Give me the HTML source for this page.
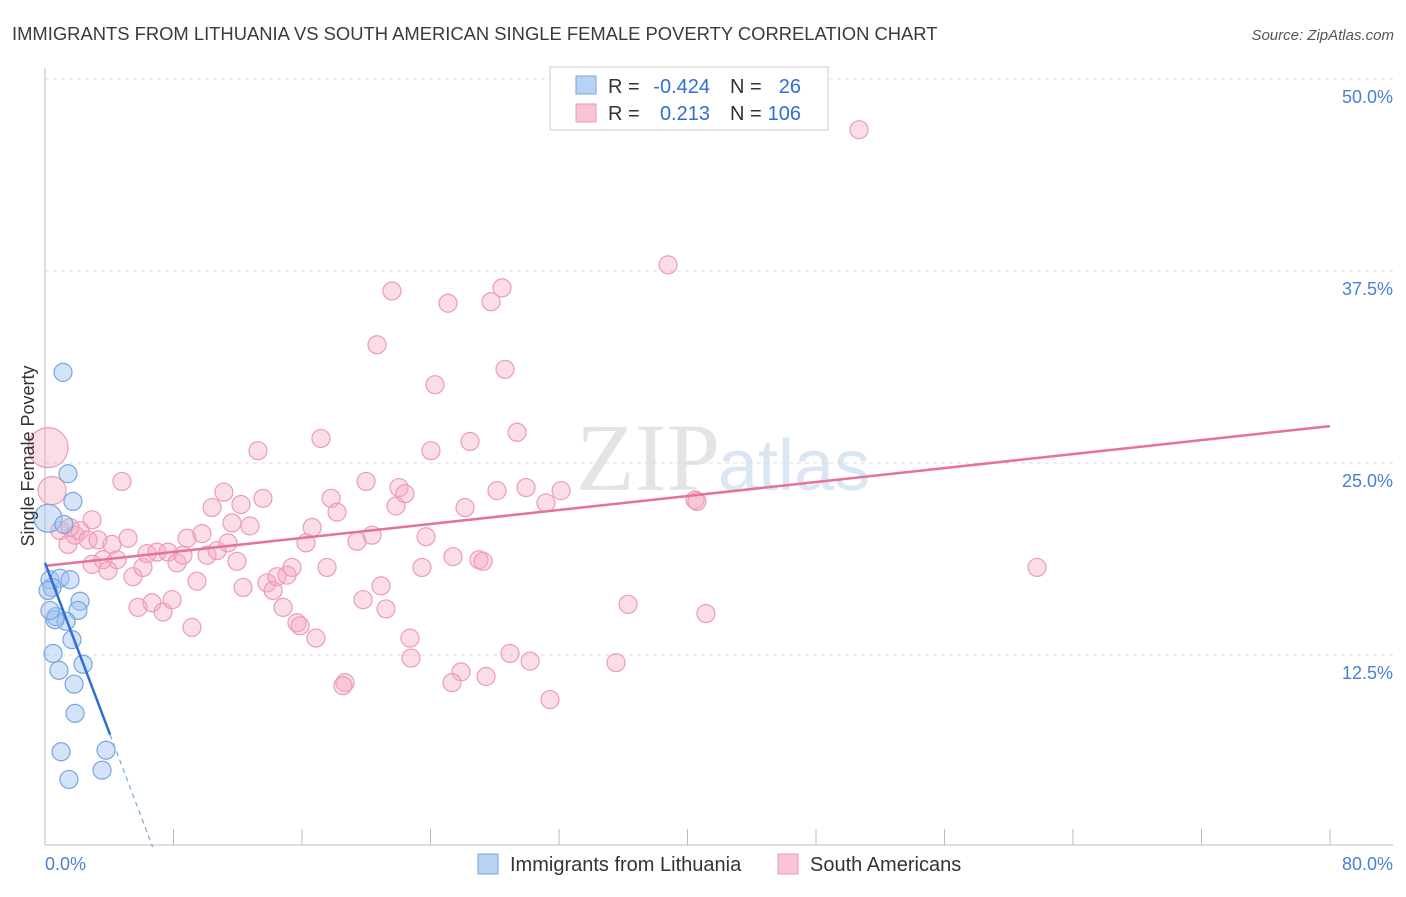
<!DOCTYPE html>
<html><head><meta charset="utf-8"><style>
body{margin:0;background:#fff;font-family:"Liberation Sans",sans-serif;}
</style></head><body>
<svg id="chart" width="1406" height="892" xmlns="http://www.w3.org/2000/svg">
<text x="12" y="40" font-size="18.4" fill="#3a3a3a">IMMIGRANTS FROM LITHUANIA VS SOUTH AMERICAN SINGLE FEMALE POVERTY CORRELATION CHART</text>
<text x="1394" y="40" font-size="15" fill="#555" font-style="italic" text-anchor="end">Source: ZipAtlas.com</text>
<text x="720" y="490" font-size="96" fill="#e4e4e4" font-family="Liberation Serif" text-anchor="end">ZIP</text>
<text x="718" y="490" font-size="72" fill="#dbe6f4">atlas</text>
<g id="grid"></g>
<g id="marks"></g>
<g id="lines"></g>
<text transform="translate(34,456) rotate(-90)" font-size="18" fill="#333" text-anchor="middle">Single Female Poverty</text>
<text x="45" y="870" font-size="18" fill="#4a7fd6">0.0%</text>
<text x="1393" y="870" font-size="18" fill="#4a7fd6" text-anchor="end">80.0%</text>
<g>
<rect x="550" y="67" width="278" height="63" fill="#fff" stroke="#ccc"/>
<rect x="576" y="76" width="20" height="18" fill="#b8d2f4" stroke="#7aa6e0"/>
<rect x="576" y="104" width="20" height="18" fill="#f8c4d2" stroke="#eb9ab4"/>
<text x="608" y="93" font-size="20" fill="#333">R =</text>
<text x="710" y="93" font-size="20" fill="#2f6fd1" text-anchor="end">-0.424</text>
<text x="730" y="93" font-size="20" fill="#333">N =</text>
<text x="801" y="93" font-size="20" fill="#2f6fd1" text-anchor="end">26</text>
<text x="608" y="120" font-size="20" fill="#333">R =</text>
<text x="710" y="120" font-size="20" fill="#2f6fd1" text-anchor="end">0.213</text>
<text x="730" y="120" font-size="20" fill="#333">N =</text>
<text x="801" y="120" font-size="20" fill="#2f6fd1" text-anchor="end">106</text>
</g>
<g>
<rect x="478" y="854" width="20" height="20" fill="#b8d2f4" stroke="#7aa6e0"/>
<text x="510" y="871" font-size="20" fill="#333">Immigrants from Lithuania</text>
<rect x="778" y="854" width="20" height="20" fill="#f8c4d2" stroke="#eb9ab4"/>
<text x="810" y="871" font-size="20" fill="#333">South Americans</text>
</g>
</svg>
<script>
const yTicks=[12.5,25,37.5,50];
const yTickLabels=["12.5%","25.0%","37.5%","50.0%"];
const xTicks=[0,8,16,24,32,40,48,56,64,72,80];
const blueX=[0.19,1.12,1.43,1.74,1.18,0.31,0.93,1.56,0.44,2.18,0.68,2.05,1.31,0.62,1.68,0.50,2.37,0.87,1.81,1.87,1.00,3.80,3.55,1.49,0.19,0.31];
const blueY=[21.4,30.9,24.3,22.5,21.0,17.4,17.5,17.4,16.9,16.0,15.0,15.4,14.7,14.8,13.5,12.6,11.9,11.5,10.6,8.7,6.2,6.3,5.0,4.4,16.7,15.4];
const pinkX=[0.19,0.44,0.93,1.43,1.87,2.18,2.68,3.30,4.17,4.79,5.17,1.56,3.61,2.93,4.48,3.92,5.48,6.10,5.79,6.66,6.35,6.97,7.35,7.91,7.66,8.22,8.59,8.84,9.15,9.46,9.77,10.09,10.40,10.71,11.14,11.39,11.64,11.95,12.33,12.20,12.76,13.26,13.57,13.82,14.20,14.44,14.82,15.07,15.38,15.69,15.88,16.25,16.63,16.87,17.18,17.56,17.81,18.18,18.68,18.55,19.42,19.80,19.99,20.36,20.67,20.92,21.23,21.60,21.85,22.04,22.41,22.72,22.79,23.47,23.72,24.03,24.28,25.09,25.40,25.90,25.34,26.15,26.46,27.02,27.27,27.46,27.77,28.14,28.45,28.64,28.95,29.39,29.95,30.20,31.19,31.44,32.13,35.55,36.30,38.79,40.47,40.59,41.15,50.68,61.76,2.93];
const pinkY=[26.0,23.2,20.6,19.7,20.3,20.6,20.0,20.0,19.7,23.8,20.1,20.8,18.7,18.4,18.7,18.0,17.6,18.2,15.6,15.9,19.1,19.2,15.3,16.1,19.2,18.5,19.0,20.1,14.3,17.3,20.4,19.0,22.1,19.3,23.1,19.8,21.1,18.6,16.9,22.3,20.9,25.8,22.7,17.2,16.7,17.6,15.6,17.7,18.2,14.6,14.4,19.8,20.8,13.6,26.6,18.2,22.7,21.8,10.7,10.5,19.9,16.1,23.8,20.3,32.7,17.0,15.5,36.2,22.2,23.4,23.0,13.6,12.3,18.2,20.2,25.8,30.1,35.4,18.9,11.4,10.7,22.1,26.4,18.7,18.6,11.1,35.5,23.2,36.4,31.1,12.6,27.0,23.4,12.1,22.4,9.6,23.2,12.0,15.8,37.9,22.6,22.5,15.2,46.7,18.2,21.3];
const pinkR=[20,14];
const blueR=[14];
const pinkTrend=[18.3,27.4]; // y at x=0 and x=80
const blueTrend=[18.5,-2.76]; // intercept, slope
const blueSolidEnd=4.05;

const NS="http://www.w3.org/2000/svg";
const X0=45,X1=1330,Y0=847,YPER=192/12.5;
const sx=v=>X0+(v/80)*(X1-X0);
const sy=v=>Y0-v*YPER;
function mk(tag,attrs,parent){const e=document.createElementNS(NS,tag);for(const k in attrs)e.setAttribute(k,attrs[k]);parent.appendChild(e);return e;}
const grid=document.getElementById('grid'),marks=document.getElementById('marks'),lines=document.getElementById('lines');
yTicks.forEach((t,i)=>{
 const l=mk('line',{x1:X0,x2:1393,y1:sy(t),y2:sy(t),stroke:'#ddd','stroke-dasharray':'4,4'},grid);
 
 
 const tx=mk('text',{x:1393,y:sy(t)+24,'font-size':18,fill:'#4a7fd6','text-anchor':'end'},grid);
 tx.textContent=yTickLabels[i];
 
 
});
const ax=mk('line',{x1:X0,x2:1393,y1:845,y2:845,stroke:'#bbb'},grid);


const ay=mk('line',{x1:X0,x2:X0,y1:68,y2:845,stroke:'#bbb'},grid);


xTicks.forEach(t=>{
 const l=mk('line',{x1:sx(t),x2:sx(t),y1:829,y2:845,stroke:'#bbb'},grid);
 
 
});
pinkX.forEach((x,i)=>{
 const c=mk('circle',{cx:sx(x),cy:sy(pinkY[i]),r:pinkR[i]||9,fill:'rgba(244,170,192,0.4)',stroke:'#ec9cb5','stroke-width':1.2},marks);
 
 
});
blueX.forEach((x,i)=>{
 const c=mk('circle',{cx:sx(x),cy:sy(blueY[i]),r:blueR[i]||9,fill:'rgba(160,196,240,0.45)',stroke:'#78a4e2','stroke-width':1.2},marks);
 
 
});
const pl=mk('line',{x1:sx(0),y1:sy(pinkTrend[0]),x2:sx(80),y2:sy(pinkTrend[1]),stroke:'#e4729a','stroke-width':2.5},lines);


const bf=x=>blueTrend[0]+blueTrend[1]*x;
const bl=mk('line',{x1:sx(0),y1:sy(bf(0)),x2:sx(blueSolidEnd),y2:sy(bf(blueSolidEnd)),stroke:'#2d6fd6','stroke-width':2.5},lines);


const xz=-blueTrend[0]/blueTrend[1];
const bd=mk('line',{x1:sx(blueSolidEnd),y1:sy(bf(blueSolidEnd)),x2:sx(xz),y2:sy(0),stroke:'#7aa6e0','stroke-width':1.2,'stroke-dasharray':'5,4'},lines);


</script>
</body></html>
